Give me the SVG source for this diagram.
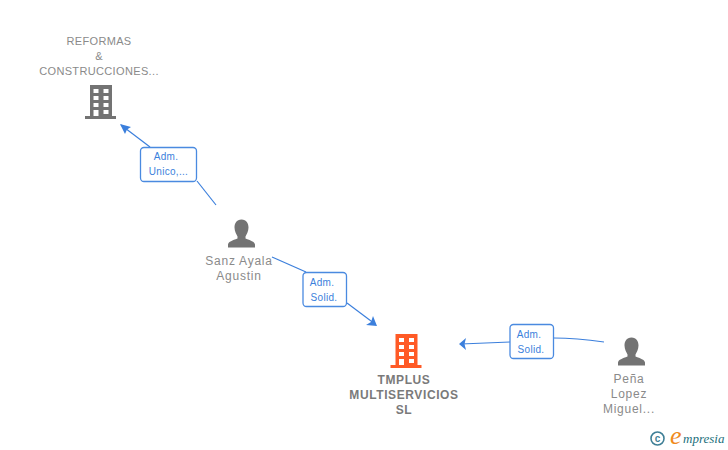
<svg xmlns="http://www.w3.org/2000/svg" width="728" height="450" viewBox="0 0 728 450">
<defs>
<style>
text{font-family:"Liberation Sans",Arial,sans-serif}
.n{font-size:12px;fill:#8a8a8a;text-anchor:middle;letter-spacing:.75px}
.u{font-size:11px;fill:#8a8a8a;text-anchor:middle;letter-spacing:.35px}
.b{font-size:12px;fill:#7a7a7a;text-anchor:middle;font-weight:bold;letter-spacing:.6px}
.l{font-size:10px;fill:#3b7fdc;text-anchor:middle;letter-spacing:.3px}
.c{fill:none;stroke:#3b7fdc;stroke-width:1.2}
.box{fill:#fff;stroke:#4a8ae0;stroke-width:1.3}
.p{fill:#737373}
</style>
<g id="bld">
<path fill-rule="evenodd" d="M-11 -17H11V14H15V17H-16V14H-11ZM-7.500 -13V-9H-2.500V-13ZM2.500 -13V-9H7.500V-13ZM-7.500 -6V-2H-2.500V-6ZM2.500 -6V-2H7.500V-6ZM-7.500 1V5H-2.500V1ZM2.500 1V5H7.500V1ZM-7.500 8V14H-2.500V8ZM2.500 8V12H7.500V8Z"/>
</g>
<g id="per">
<path d="M0 -15C5 -15 7 -11 7 -7C7 -3 5 0 4 2V4C9 6 13 7 13.500 10V13H-13.500V10C-13 7 -9 6 -4 4V2C-5 0 -7 -3 -7 -7C-7 -11 -5 -15 0 -15Z"/>
</g>
</defs>
<rect width="728" height="450" fill="#fff"/>
<g id="connectors">
<path class="c" d="M216 205L197 181"/>
<path class="c" d="M150 147L121 125"/>
<path fill="#3b7fdc" d="M120 124L131 127L127 129.500L125 134Z"/>
<path class="c" d="M272 257L306 272"/>
<path class="c" d="M347 303L375 324"/>
<path fill="#3b7fdc" d="M377 326L366 325L371 322L373 316Z"/>
<path class="c" d="M510 342L461 344"/>
<path fill="#3b7fdc" d="M459 344L466 338L464.500 344L466 350Z"/>
<path class="c" d="M554 338C575 338 590 340 604 342"/>
</g>
<g id="edge-label-1"><rect class="box" x="140.500" y="147.500" width="56" height="34" rx="3.500"/><text class="l" x="166" y="160">Adm.</text><text class="l" x="168.500" y="175">Unico,...</text></g>
<g id="edge-label-2"><rect class="box" x="303" y="272.500" width="43.500" height="34" rx="3.500"/><text class="l" x="322" y="286">Adm.</text><text class="l" x="324" y="301">Solid.</text></g>
<g id="edge-label-3"><rect class="box" x="510" y="324.500" width="43.500" height="34" rx="3.500"/><text class="l" x="529" y="338">Adm.</text><text class="l" x="531" y="353">Solid.</text></g>
<g id="node-reformas">
<text class="u" x="99" y="45">REFORMAS</text><text class="u" x="99" y="60">&amp;</text><text class="u" x="99" y="75">CONSTRUCCIONES...</text>
<use href="#bld" x="101" y="102" class="p"/>
</g>
<g id="node-sanz">
<use href="#per" x="241.500" y="234.500" class="p"/>
<text class="n" x="239" y="265">Sanz Ayala</text><text class="n" x="239" y="280">Agustin</text>
</g>
<g id="node-tmplus">
<use href="#bld" x="406.500" y="351" fill="#ff5a26"/>
<text class="b" x="404" y="384">TMPLUS</text><text class="b" x="404" y="399">MULTISERVICIOS</text><text class="b" x="404" y="414">SL</text>
</g>
<g id="node-pena">
<use href="#per" x="631.500" y="352.500" class="p"/>
<text class="n" x="629" y="383">Peña</text><text class="n" x="629" y="398">Lopez</text><text class="n" x="629" y="413">Miguel...</text>
</g>
<g id="brand">
<circle cx="657.500" cy="438.500" r="6.500" fill="none" stroke="#3f7f96" stroke-width="1.600"/>
<text x="657.500" y="442" font-size="10" font-weight="bold" fill="#3f7f96" text-anchor="middle">c</text>
<text x="670" y="444" font-size="26" font-style="italic" fill="#f08a1d" style="font-family:'Liberation Serif',serif">e</text>
<text x="683" y="443" font-size="13" font-style="italic" fill="#1c6f7c" style="font-family:'Liberation Serif',serif">mpresia</text>
</g>
</svg>
